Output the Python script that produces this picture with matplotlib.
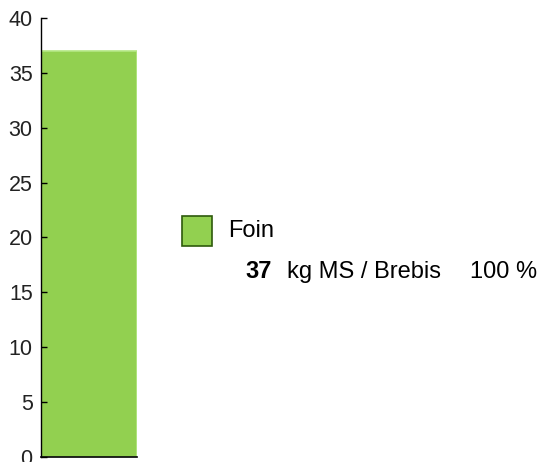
import matplotlib
matplotlib.use("Agg")
import matplotlib.pyplot as plt
from matplotlib.patches import Rectangle

categories = ["Foin"]
values = [37]
percents = [100]
unit = "kg MS / Brebis"
yticks = [0, 5, 10, 15, 20, 25, 30, 35, 40]

plt.rcParams['font.family'] = ['Liberation Sans', 'DejaVu Sans']

W, H = 541, 462
fig = plt.figure(figsize=(W/100, H/100), dpi=100)
ax = fig.add_axes([41/W, 1-457/H, (137-41)/W, (457-18)/H])

ax.bar([0], values, width=1.0, align='edge', color='#92d050', edgecolor='#b4e884', linewidth=1.2)
ax.set_xlim(0, 1)
ax.set_ylim(0, 40)
ax.set_yticks(yticks)
ax.set_xticks([])
ax.tick_params(axis='y', direction='in', length=4, width=1, labelsize=15.5, pad=6, colors='#000000')
for lbl in ax.get_yticklabels():
    lbl.set_color('#222222')
for s in ['top', 'right']:
    ax.spines[s].set_visible(False)
ax.spines['left'].set_linewidth(1)
ax.spines['bottom'].set_linewidth(1.2)

# legend
fig.patches.append(Rectangle((182/W, 1-246/H), 30/W, 30/H, transform=fig.transFigure,
                             facecolor='#92d050', edgecolor='#2e5a0c', linewidth=1.2))
fig.text(228/W, 1-231/H, categories[0], fontsize=17, va='center', ha='left')
fig.text(245/W, 1-272/H, str(values[0]), fontsize=17, fontweight='bold', va='center', ha='left')
fig.text(287/W, 1-272/H, unit, fontsize=17, va='center', ha='left')
fig.text(470/W, 1-272/H, f"{percents[0]} %", fontsize=17, va='center', ha='left')

fig.savefig("out.png", dpi=100)
